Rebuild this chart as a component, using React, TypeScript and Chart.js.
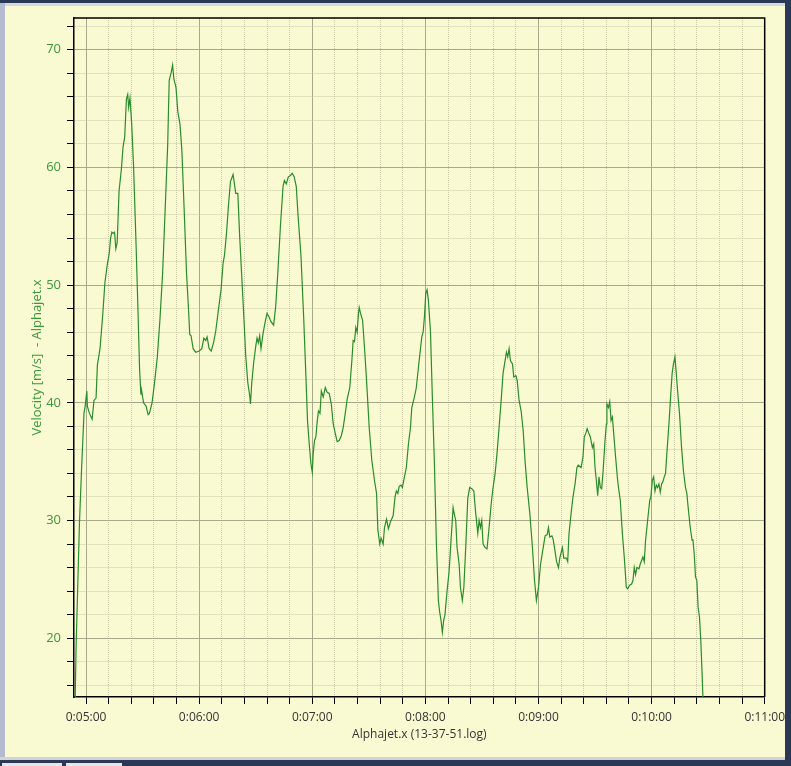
import React, { useEffect, useRef } from "react";
import { Chart, registerables } from "chart.js";

Chart.register(...registerables);

// ---- data (seconds since log start, velocity m/s) ----
const TIMES: number[] = [
  294.2, 294.7, 296.5, 297.7, 298.9, 299.5, 300.4, 300.7, 301.8, 303.2, 304.2, 305.3, 306.0, 307.4, 308.8,
  310.0, 311.2, 312.3, 313.0, 313.7, 314.4, 315.1, 315.8, 316.5, 317.5, 318.7, 319.6, 320.5, 321.4, 322.1,
  322.6, 323.3, 324.2, 325.2, 326.6, 327.5, 328.4, 329.1, 329.4, 330.5, 331.9, 332.9, 333.6, 335.0, 336.4,
  337.8, 339.2, 340.6, 342.0, 343.3, 344.1, 345.2, 345.9, 346.6, 347.7, 348.7, 349.8, 350.8, 352.0, 353.3,
  354.3, 355.0, 355.7, 356.8, 358.2,
  360.0, 361.4, 362.5, 363.5, 364.2, 365.3, 366.4, 367.6, 368.8, 370.2, 371.6, 372.7, 373.4, 374.5, 375.5,
  376.6, 377.3, 378.0, 378.7, 379.4, 380.5, 381.5, 382.6, 383.7, 384.7, 385.8, 386.8, 387.2, 387.9, 388.9,
  390.0, 390.7, 391.4, 392.1, 392.8, 393.9, 394.9, 396.0, 397.1, 398.1, 399.5, 400.6, 401.7, 403.1, 404.5,
  405.2, 406.2, 407.3, 408.3, 409.4, 410.4, 411.5, 412.5, 414.0, 415.4, 416.5, 417.5, 418.6, 419.3, 420.0,
  420.5, 421.2, 421.9, 422.6, 423.3, 424.1, 424.8, 425.8, 426.9, 427.9, 429.0, 430.1, 431.1, 432.2, 433.2,
  434.3, 435.4, 436.4, 437.5, 438.5, 439.9, 441.0, 441.7, 442.4, 443.1, 443.8, 444.5, 444.9, 445.6, 446.7,
  447.7, 448.8, 450.2, 451.6, 453.0, 454.1, 454.8, 455.8, 456.5, 457.6, 458.3, 459.4, 460.4, 461.5, 462.9,
  463.9, 464.6, 465.4, 466.1, 467.1, 467.8, 468.9, 469.9, 471.0, 472.1, 472.8, 474.2, 475.2, 476.3,
  478.1, 478.8, 479.5, 480.2, 480.9, 481.6, 482.7, 483.7, 484.8, 485.8, 486.9, 487.6, 488.3, 489.0, 489.7,
  490.4, 491.5, 492.6, 493.6, 494.7, 495.4, 496.1, 496.8, 497.9, 498.6, 499.6, 500.4, 501.4, 502.5, 503.5,
  504.6, 505.7, 506.7, 507.8, 508.5, 509.2, 509.9, 510.6, 511.7, 512.7, 513.8, 514.9, 515.9, 517.0, 518.0,
  519.1, 520.2, 521.2, 522.3, 523.0, 523.7, 524.4, 525.1, 526.2, 526.9, 528.0, 528.7, 529.7, 530.8, 531.9,
  532.9, 534.0, 535.4, 536.8, 537.9, 538.9, 540.0, 541.1, 542.5, 543.5, 544.6, 545.3, 546.0, 547.1, 547.8,
  548.5, 549.6, 550.6, 551.3,
  552.7, 553.4, 554.8, 555.5, 556.2, 557.3, 558.3, 559.4, 560.4, 561.1, 562.6, 563.6, 564.3, 565.1, 565.8,
  566.5, 567.5, 568.6, 569.3, 570.0, 570.7, 571.4, 572.1, 572.8, 573.5, 574.2, 575.3, 576.0, 576.3, 577.1,
  577.8, 578.5, 579.2, 579.9, 580.9, 582.0, 582.7, 583.4, 584.5, 585.5, 586.6, 587.3, 588.4, 589.4, 590.1,
  590.8, 591.5, 592.2, 593.3, 594.0, 594.7, 595.4, 596.1, 596.8, 597.9, 599.0, 599.6, 600.4, 601.1, 601.8,
  602.5, 603.2, 603.9, 604.6, 605.3, 606.0, 606.7, 607.4, 608.1, 609.2, 610.2, 610.9, 611.6, 612.4, 613.1,
  613.8, 614.8, 615.9, 616.9, 618.0, 618.7, 619.4, 620.5, 621.5, 621.9, 622.6, 623.3, 624.0, 624.7, 625.4,
  626.1, 626.8, 627.3,
];

const VELOCITY: number[] = [
  14.6, 19.2, 29.8, 34.7, 39.1, 39.7, 41.0, 39.7, 39.1, 38.6, 40.2, 40.4, 43.2, 44.6, 47.4,
  50.2, 51.7, 52.7, 54.0, 54.5, 54.4, 54.5, 53.1, 53.6, 58.0, 59.8, 61.7, 62.6, 65.8, 66.2,
  65.1, 65.9, 63.7, 60.1, 53.1, 48.1, 42.8, 40.7, 41.1, 40.0, 39.7, 39.0, 39.1, 40.0, 41.8,
  43.9, 47.1, 51.0, 56.6, 61.9, 67.4, 68.1, 68.7, 67.5, 66.8, 64.7, 63.7, 61.5, 56.6, 51.0,
  48.1, 45.8, 45.7, 44.6, 44.3,
  44.4, 44.6, 45.5, 45.3, 45.6, 44.6, 44.4, 45.1, 46.1, 47.9, 49.6, 51.9, 52.5, 54.4, 56.7,
  58.8, 59.1, 59.4, 58.6, 57.8, 57.8, 54.1, 50.7, 47.3, 44.0, 41.7, 40.6, 39.9, 41.7, 43.4,
  44.8, 45.5, 45.1, 45.7, 44.6, 45.9, 46.8, 47.6, 47.3, 46.9, 46.6, 48.2, 51.0, 55.0, 58.4,
  58.9, 58.6, 59.2, 59.3, 59.5, 59.2, 58.4, 55.8, 52.5, 47.4, 42.8, 38.4, 36.1, 34.8, 34.1,
  35.7, 36.8, 37.1, 38.4, 39.3, 39.1, 41.0, 40.5, 41.3, 40.9, 40.8, 39.9, 38.2, 37.4, 36.7,
  36.8, 37.2, 37.9, 39.1, 40.3, 41.3, 43.6, 45.3, 45.2, 46.4, 46.0, 47.6, 48.1, 47.6, 47.0,
  44.7, 41.9, 37.9, 35.1, 33.4, 32.3, 29.2, 28.0, 28.5, 28.0, 29.4, 30.1, 29.3, 29.9, 30.4,
  32.0, 32.5, 32.3, 32.9, 33.0, 32.8, 33.7, 34.5, 36.5, 37.9, 39.6, 40.5, 41.3, 43.0,
  45.6, 46.0, 47.3, 49.3, 49.6, 48.7, 46.1, 40.5, 34.8, 28.3, 23.2, 22.2, 21.5, 20.5, 21.5,
  22.0, 24.0, 25.7, 28.3, 31.1, 30.5, 30.0, 27.7, 26.3, 24.3, 23.2, 24.3, 27.7, 31.9, 32.8,
  32.7, 32.5, 30.6, 28.9, 30.0, 29.4, 30.0, 28.0, 27.7, 27.6, 29.4, 31.4, 32.8, 34.0, 35.7,
  37.9, 40.2, 42.5, 43.6, 44.3, 43.9, 44.6, 43.6, 43.3, 42.2, 42.3, 41.9, 40.2, 39.3, 37.6,
  35.0, 32.8, 30.6, 27.7, 24.9, 23.2, 24.3, 26.3, 27.7, 28.7, 28.8, 29.4, 28.6, 28.7, 28.4,
  27.7, 26.5, 26.0, 26.8,
  27.7, 26.8, 26.8, 26.5, 28.9, 30.6, 32.0, 33.1, 34.5, 34.7, 34.5, 35.4, 37.1, 37.4, 37.8,
  37.5, 37.1, 36.2, 36.5, 34.5, 33.4, 32.1, 33.7, 32.8, 32.7, 34.0, 36.8, 38.2, 39.9, 39.6,
  40.1, 38.5, 38.8, 37.4, 35.4, 33.4, 32.5, 31.7, 28.9, 26.9, 24.3, 24.2, 24.5, 24.6, 24.9,
  26.0, 25.4, 26.0, 25.9, 26.3, 26.6, 26.9, 26.5, 28.3, 30.0, 31.7, 32.0, 33.4, 33.7, 32.5,
  33.0, 32.8, 33.1, 32.4, 33.1, 33.3, 33.7, 34.0, 35.7, 38.2, 40.8, 42.5, 43.3, 43.9, 42.5,
  41.0, 39.1, 36.2, 34.2, 32.8, 32.3, 31.1, 29.4, 28.3, 28.4, 27.2, 25.2, 24.9, 22.6, 21.8,
  19.8, 17.0, 14.6,
];

// axis ranges / tick spacing
const X_MIN = 293.6;
const X_MAX = 660;
const X_MINOR_STEP = 12;
const X_MAJOR_STEP = 60;
const Y_MIN = 15;
const Y_MAX = 72.7;
const Y_MINOR_STEP = 2;
const Y_MAJOR_STEP = 10;

const X_TITLE = "Alphajet.x (13-37-51.log)";
const Y_TITLE = "Velocity [m/s]  - Alphajet.x";

const GREEN = "#2a8c2a";
const LABEL_GREEN = "#3c963c";
const MAJOR_GRID = "#a8a88a";
const MINOR_GRID = "#c9c9a6";
const CREAM = "#fafad2";
const NAVY = "#2b3957";
const FONT = "'Open Sans', 'Liberation Sans', sans-serif";

function fmtTime(v: number): string {
  const h = Math.floor(v / 3600);
  const m = Math.floor((v % 3600) / 60);
  const s = Math.round(v % 60);
  return `${h}:${String(m).padStart(2, "0")}:${String(s).padStart(2, "0")}`;
}

const isMajor = (v: number, step: number) => Math.abs(v / step - Math.round(v / step)) < 1e-6;

const frameBorder = {
  id: "frameBorder",
  afterDraw(chart: any) {
    const { ctx, chartArea } = chart;
    ctx.save();
    ctx.strokeStyle = "#000";
    ctx.lineWidth = 1.5;
    ctx.beginPath();
    ctx.moveTo(chartArea.left, chartArea.top);
    ctx.lineTo(chartArea.right, chartArea.top);
    ctx.lineTo(chartArea.right, chartArea.bottom);
    ctx.stroke();
    ctx.restore();
  },
};

export default function App() {
  const canvasRef = useRef<HTMLCanvasElement | null>(null);

  useEffect(() => {
    if (!canvasRef.current) return;
    const points = TIMES.map((t, i) => ({ x: t, y: VELOCITY[i] }));
    const chart = new Chart(canvasRef.current, {
      type: "line",
      data: {
        datasets: [
          {
            data: points,
            borderColor: GREEN,
            borderWidth: 1.2,
            pointRadius: 0,
            tension: 0,
            fill: false,
          },
        ],
      },
      options: {
        animation: false,
        responsive: false,
        events: [],
        layout: { padding: { top: 18, right: 25, left: 0, bottom: 0 } },
        plugins: { legend: { display: false }, tooltip: { enabled: false }, title: { display: false } },
        scales: {
          x: {
            type: "linear",
            min: X_MIN,
            max: X_MAX,
            afterFit: (scale: any) => {
              scale.height = 69;
            },
            border: {
              display: true,
              color: "#000",
              width: 1.5,
              dash: (ctx: any) => (ctx.tick && !isMajor(ctx.tick.value, X_MAJOR_STEP) ? [1, 1] : []),
            } as any,
            grid: {
              color: (ctx: any) => (ctx.tick && isMajor(ctx.tick.value, X_MAJOR_STEP) ? MAJOR_GRID : MINOR_GRID),
              lineWidth: 1,
              tickColor: "#000",
              tickLength: 7,
              tickWidth: 1,
            },
            ticks: {
              stepSize: X_MINOR_STEP,
              includeBounds: false,
              autoSkip: false,
              maxRotation: 0,
              padding: 6,
              color: "#333",
              font: { family: FONT, size: 12, lineHeight: 1.2 },
              callback: (v: any) => (isMajor(Number(v), X_MAJOR_STEP) ? fmtTime(Number(v)) : ""),
            },
            title: {
              display: true,
              text: X_TITLE,
              color: "#333",
              font: { family: FONT, size: 12, lineHeight: 1.2 },
              padding: { top: 0, bottom: 24 },
            },
          },
          y: {
            type: "linear",
            min: Y_MIN,
            max: Y_MAX,
            afterFit: (scale: any) => {
              scale.width = 74;
            },
            border: {
              display: true,
              color: "#000",
              width: 1.5,
              dash: (ctx: any) => (ctx.tick && !isMajor(ctx.tick.value, Y_MAJOR_STEP) ? [1, 1] : []),
            } as any,
            grid: {
              color: (ctx: any) => (ctx.tick && isMajor(ctx.tick.value, Y_MAJOR_STEP) ? MAJOR_GRID : MINOR_GRID),
              lineWidth: 1,
              tickColor: "#000",
              tickLength: 7,
              tickWidth: 1,
            },
            ticks: {
              stepSize: Y_MINOR_STEP,
              includeBounds: false,
              autoSkip: false,
              padding: 6,
              color: LABEL_GREEN,
              font: { family: FONT, size: 13, lineHeight: 1.2 },
              callback: (v: any) => (isMajor(Number(v), Y_MAJOR_STEP) ? String(v) : ""),
            },
            title: {
              display: true,
              text: Y_TITLE,
              color: LABEL_GREEN,
              font: { family: FONT, size: 13, lineHeight: 1.2 },
              padding: { top: 29, bottom: 0 },
            },
          },
        },
      },
      plugins: [frameBorder],
    } as any);
    return () => chart.destroy();
  }, []);

  return (
    <div style={{ position: "fixed", left: 0, top: 0, width: 791, height: 766, background: NAVY, overflow: "hidden" }}>
      <div style={{ position: "absolute", left: 0, top: 3, width: 785, height: 3, background: "#d5d9df" }} />
      <div style={{ position: "absolute", left: 0, top: 3, width: 5, height: 757, background: "#b3bccf" }} />
      <div style={{ position: "absolute", left: 5, top: 6, width: 780, height: 751, background: CREAM }} />
      <div style={{ position: "absolute", left: 0, top: 757, width: 785, height: 3, background: "#d0d4da" }} />
      <div style={{ position: "absolute", left: 2, top: 763, width: 60, height: 3, background: "#e4e6ea" }} />
      <div style={{ position: "absolute", left: 66, top: 763, width: 56, height: 3, background: "#e4e6ea" }} />
      <canvas ref={canvasRef} width={791} height={766} style={{ position: "absolute", left: 0, top: 0, width: 791, height: 766 }} />
    </div>
  );
}
